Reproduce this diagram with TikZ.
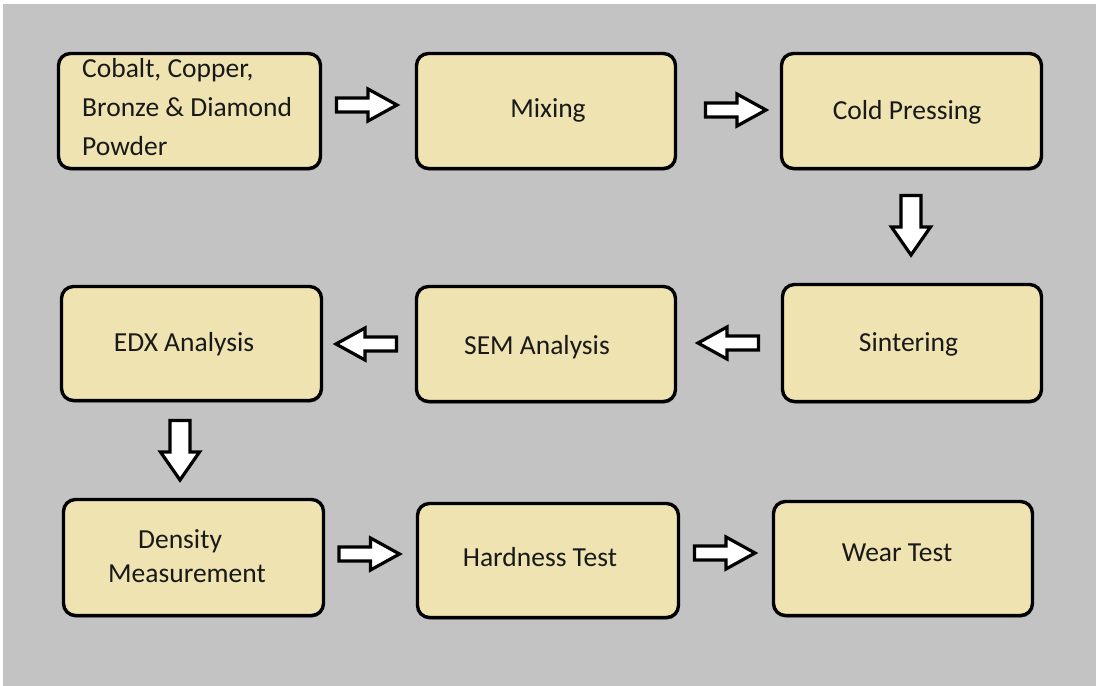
\documentclass[tikz,border=0pt]{standalone}
\usepackage{fontspec}
\setmainfont{Carlito}
\usetikzlibrary{shadows}
\definecolor{bgc}{RGB}{195,195,195}
\definecolor{boxfill}{RGB}{238,227,177}
\definecolor{txt}{RGB}{25,25,25}
\begin{document}
\begin{tikzpicture}[x=1pt,y=-1pt,
  stepbox/.style={draw=black, line width=3.4pt, fill=boxfill, rounded corners=12pt,
    inner sep=0pt, drop shadow={shadow xshift=0.5pt, shadow yshift=-2pt, opacity=0.55, fill=black}},
  lbl/.style={font=\fontsize{27.5}{39}\selectfont, text=txt, anchor=base, inner sep=0pt},
  blockarrow/.style={draw=black, line width=3.2pt, fill=white, line join=miter},
  rarrow/.pic={\draw[blockarrow] (-31,-7) -- (0.5,-7) -- (0.5,-16) -- (29.5,0) -- (0.5,16) -- (0.5,7) -- (-31,7) -- cycle;},
  darrow/.pic={\draw[blockarrow] (-10,-30.5) -- (10,-30.5) -- (10,1) -- (19.5,1) -- (0,29) -- (-19.5,1) -- (-10,1) -- cycle;}
]
% background
\fill[white] (0,0) rectangle (1096,686);
\fill[bgc] (3,4) rectangle (1096,686);
\useasboundingbox (0,0) rectangle (1096,686);

% boxes
\node[stepbox, minimum width=262pt, minimum height=115pt] (b1) at (189.5,111) {};
\node[stepbox, minimum width=259pt, minimum height=115pt] (b2) at (546,111) {};
\node[stepbox, minimum width=260pt, minimum height=115pt] (b3) at (911.5,111) {};
\node[stepbox, minimum width=260pt, minimum height=114pt] (b4) at (191.5,343.5) {};
\node[stepbox, minimum width=259pt, minimum height=115pt] (b5) at (546,344) {};
\node[stepbox, minimum width=259pt, minimum height=117pt] (b6) at (912,343) {};
\node[stepbox, minimum width=260pt, minimum height=116pt] (b7) at (193.5,557.5) {};
\node[stepbox, minimum width=261pt, minimum height=114pt] (b8) at (548,560.5) {};
\node[stepbox, minimum width=259pt, minimum height=114pt] (b9) at (903,558.5) {};

% labels
\node[lbl, anchor=base west, align=left] (t1) at (82,155) {Cobalt, Copper,\\Bronze \& Diamond\\Powder};
\node[lbl] (t2) at (548,117) {Mixing};
\node[lbl] (t3) at (907,119) {Cold Pressing};
\node[lbl] (t4) at (184,351) {EDX Analysis};
\node[lbl] (t5) at (537,354) {SEM Analysis};
\node[lbl] (t6) at (908.5,351) {Sintering};
\node[lbl, anchor=base west, align=left, font=\fontsize{27.5}{34}\selectfont] (t7) at (108,582) {\hspace*{30pt}Density\\Measurement};
\node[lbl] (t8) at (540,566) {Hardness Test};
\node[lbl] (t9) at (897,561) {Wear Test};

% block arrows
\pic at (367.5,105) {rarrow};
\pic at (736.5,110) {rarrow};
\pic at (911,226) {darrow};
\pic[rotate=180] at (727.5,343) {rarrow};
\pic[rotate=180] at (365.5,344) {rarrow};
\pic at (180,451) {darrow};
\pic at (370,554) {rarrow};
\pic at (725.5,553) {rarrow};
\end{tikzpicture}
\end{document}
